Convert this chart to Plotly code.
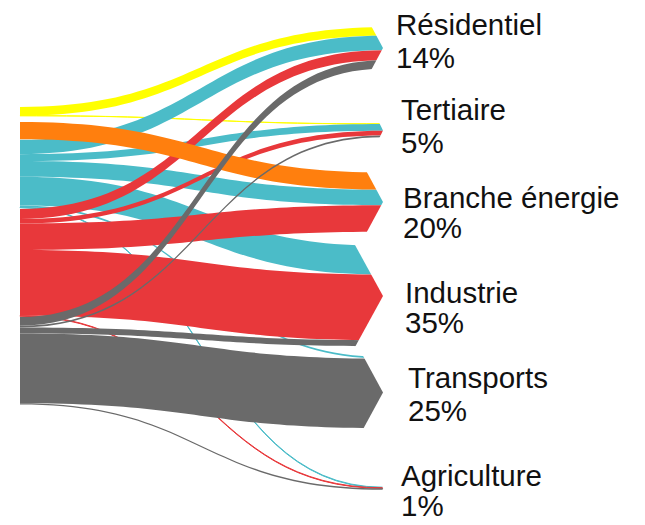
import plotly.graph_objects as go

# the page adds an 8px body margin, so the figure is 8px smaller than the window
W, H = 637, 517

# right-hand sectors and their shares
sectors = ["Résidentiel", "Tertiaire", "Branche énergie", "Industrie", "Transports", "Agriculture"]
shares = ["14%", "5%", "20%", "35%", "25%", "1%"]

# left-hand sources (labels are cut off in the original), identified by colour
fuel_colors = ["#FFFF00", "#FF7F0E", "#4BBCC8", "#E8383B", "#6A6A6A"]
fuel_totals = [5.2, 6.2, 24.0, 37.6, 30.4]   # height of each source bar, % units

# flows: source index -> sector index, value in %
flow_src = [0, 0,
            2, 2, 2, 2, 2, 2,
            3, 3, 3, 3, 3,
            1,
            4, 4, 4, 4, 4]
flow_tgt = [0, 1,
            0, 1, 2, 3, 4, 5,
            0, 1, 2, 3, 5,
            2,
            0, 1, 3, 4, 5]
flow_val = [3.0, 0.05,
            5.0, 2.4, 5.4, 10.0, 0.6, 0.2,
            3.5, 1.6, 9.2, 22.8, 0.2,
            6.0,
            3.0, 0.6, 2.1, 24.2, 0.5]

# layout of the drawing (figure pixels)
px_per = 2.878          # pixels per % unit
thick = 13
mid_top = 99
mid_cx = 5.5
tip_x = 375
sector_cy = [40, 122.5, 194, 288, 384.5, 480.5]

nf, ns = len(fuel_colors), len(sectors)
mid_total = sum(fuel_totals)
dummy_val = H / px_per - mid_total   # invisible flow that fixes the vertical scale

# node indices: 0..4 left bars, 5..9 source nodes, 10..15 sectors, 16/17 dummy
node_x, node_y, node_col = [], [], []
cy = []
y = mid_top
for v in fuel_totals:
    cy.append(y + v * px_per / 2)
    y += v * px_per
for i in range(nf):
    node_x.append((mid_cx - thick) / W); node_y.append(cy[i] / H); node_col.append(fuel_colors[i])
for i in range(nf):
    node_x.append(mid_cx / W); node_y.append(cy[i] / H); node_col.append("rgba(0,0,0,0)")
for j in range(ns):
    node_x.append((tip_x + thick / 2) / W); node_y.append(sector_cy[j] / H); node_col.append("rgba(0,0,0,0)")
node_x += [-0.4, -0.3]; node_y += [0.5, 0.5]; node_col += ["rgba(0,0,0,0)"] * 2

src, tgt, val, col = [], [], [], []
for i in range(nf):
    src.append(i); tgt.append(nf + i); val.append(fuel_totals[i]); col.append("rgba(0,0,0,0)")
for s, t, v in zip(flow_src, flow_tgt, flow_val):
    src.append(nf + s); tgt.append(2 * nf + t); val.append(v); col.append(fuel_colors[s])
src.append(2 * nf + ns); tgt.append(2 * nf + ns + 1); val.append(dummy_val); col.append("rgba(0,0,0,0)")

fig = go.Figure(go.Sankey(
    arrangement="fixed",
    domain=dict(x=[0, 1], y=[0, 1]),
    node=dict(pad=0, thickness=thick, x=node_x, y=node_y, color=node_col,
              label=[""] * len(node_x), line=dict(width=0)),
    link=dict(source=src, target=tgt, value=val, color=col, line=dict(width=0)),
    hoverinfo="none",
))

# arrow heads: white corners cut off the end of each sector bundle
shapes = []
for j in range(ns):
    h = sum(v for t, v in zip(flow_tgt, flow_val) if t == j) * px_per
    c = sector_cy[j]
    top, bot = c - h / 2, c + h / 2
    d = 0.56 * h / 2
    for edge in (top - 1, bot + 1):
        pts = [(tip_x - d, edge), (tip_x + 4, edge), (tip_x + 4, c), (tip_x, c)]
        path = "M " + " L ".join(f"{px / W:.5f},{1 - py / H:.5f}" for px, py in pts) + " Z"
        shapes.append(dict(type="path", xref="paper", yref="paper", path=path,
                           fillcolor="white", line=dict(width=0), layer="above"))

# labels: (x, y of name, y of share)
label_pos = [(386, 17, 49), (391, 102, 134), (393, 189, 220),
             (395, 284, 314), (398, 369, 402), (391, 467, 497)]
ann = []
for j in range(ns):
    lx, ny, py_ = label_pos[j]
    for txt, yy in ((sectors[j], ny), (shares[j], py_)):
        ann.append(dict(text=txt, x=lx / W, y=1 - yy / H, xref="paper", yref="paper",
                        xanchor="left", yanchor="middle", showarrow=False,
                        font=dict(size=29.5, color="#111111")))

fig.update_layout(width=W, height=H, margin=dict(l=0, r=0, t=0, b=0),
                  paper_bgcolor="white", plot_bgcolor="white",
                  font=dict(family="Arial, Liberation Sans, sans-serif"),
                  shapes=shapes, annotations=ann)
fig.write_html("out.html")
